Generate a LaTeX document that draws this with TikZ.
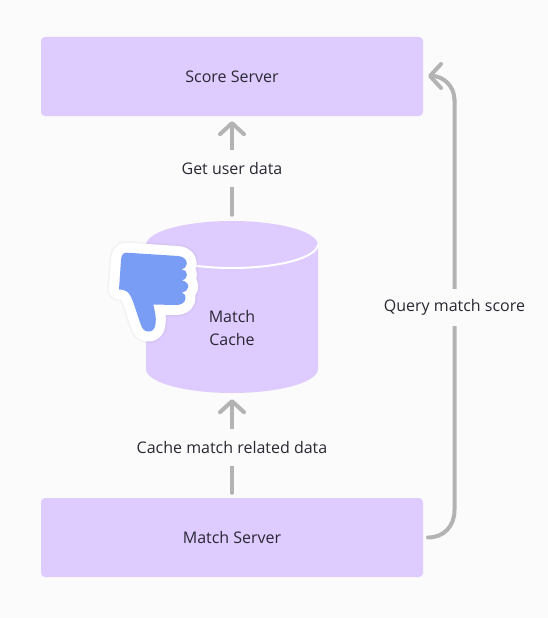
\documentclass[tikz,border=0pt]{standalone}
\usepackage{fontspec}
\setmainfont{Open Sans}
\usetikzlibrary{arrows.meta}
\definecolor{bg}{HTML}{FBFBFB}
\definecolor{lav}{HTML}{DECBFF}
\definecolor{wire}{HTML}{B3B3B3}
\definecolor{ink}{HTML}{2A2833}
\definecolor{thumb}{HTML}{799CF5}
\tikzset{
  serverbox/.style={rectangle,fill=lav,rounded corners=4pt,minimum width=382pt,minimum height=79pt,inner sep=0pt,text=ink,font=\fontsize{16}{18}\selectfont},
  lbl/.style={rectangle,fill=bg,inner sep=0pt,text=ink,font=\fontsize{16}{18}\selectfont},
  wirearrow/.style={draw=wire,line width=4pt,line cap=round,-{Straight Barb[length=11pt,width=24pt,round]}},
  wireplain/.style={draw=wire,line width=4pt,line cap=round},
}
\def\thumbpath{(126.7,252.7) -- (178,256) .. controls (183,256.5) and (187,259) .. (186.8,264)
 .. controls (186.7,267) and (184,269) .. (181.5,269.5)
 .. controls (185,270) and (187.5,272) .. (187,275)
 .. controls (186.7,278) and (184.5,280) .. (182,280.5)
 .. controls (186,281) and (188.5,284) .. (188.3,287)
 .. controls (188,290) and (185,292) .. (182,292.7)
 .. controls (185,293.5) and (186,296) .. (185.5,298.5)
 .. controls (185,303) and (181,305) .. (176,305) -- (153.3,304.5)
 .. controls (155,312) and (156.5,318) .. (155.5,324)
 .. controls (155,330) and (151,332) .. (148,331.5)
 .. controls (144,331) and (142.5,329) .. (141,325)
 .. controls (136,312) and (133,298) .. (128.5,293)
 .. controls (126,290) and (122,289.5) .. (119,289.5)
 -- (121,260) .. controls (121.5,255) and (123,252.5) .. (126.7,252.7) -- cycle}
\begin{document}
\begin{tikzpicture}[x=1pt,y=-1pt]
\useasboundingbox[fill=bg] (0,0) rectangle (548,618);
% cylinder
\fill[lav] (146,245) arc[x radius=86,y radius=24,start angle=180,end angle=360]
  -- (318,369) arc[x radius=86,y radius=24,start angle=0,end angle=180] -- cycle;
\draw[white,line width=2pt] (146,244) arc[x radius=86,y radius=24,start angle=180,end angle=0];
\node[minimum width=172pt,minimum height=172pt,inner sep=0pt] (cache) at (232,307) {};
\node[text=ink,font=\fontsize{16}{23}\selectfont,align=center,inner sep=0pt] (cachelabel) at (232,328) {Match\\Cache};
% thumb
\draw[black,opacity=.02,line width=24pt,line join=round] \thumbpath;
\draw[black,opacity=.02,line width=22pt,line join=round] \thumbpath;
\draw[white,line width=20pt,line join=round,fill=white] \thumbpath;
\fill[thumb] \thumbpath;
% servers
\node[serverbox] (score) at (232,76.5) {\raisebox{-0.5pt}{Score Server}};
\node[serverbox] (match) at (232,537.5) {\raisebox{-0.5pt}{Match Server}};
% connectors
\coordinate (qstart) at (428,537.5);
\coordinate (qend) at (428,76);
\draw[wirearrow,shorten <=6pt,shorten >=5pt] (cache.north) -- (score.south);
\draw[wirearrow,shorten <=5pt,shorten >=6pt] (match.north) -- (cache.south);
\node[lbl,minimum width=110pt,minimum height=37pt] (l1) at (232,168.5) {Get user data};
\node[lbl,minimum width=200pt,minimum height=37pt] (l2) at (232,447) {Cache match related data};
\draw[wireplain] (qstart) .. controls (444,537.5) and (454.5,526) .. (454.5,510) -- (454.5,100);
\draw[wirearrow] (454.5,100) .. controls (454.5,87) and (444,76) .. (qend);
\node[lbl,minimum width=150pt,minimum height=37pt] (l3) at (454.5,307.5) {Query match score};
\end{tikzpicture}
\end{document}
